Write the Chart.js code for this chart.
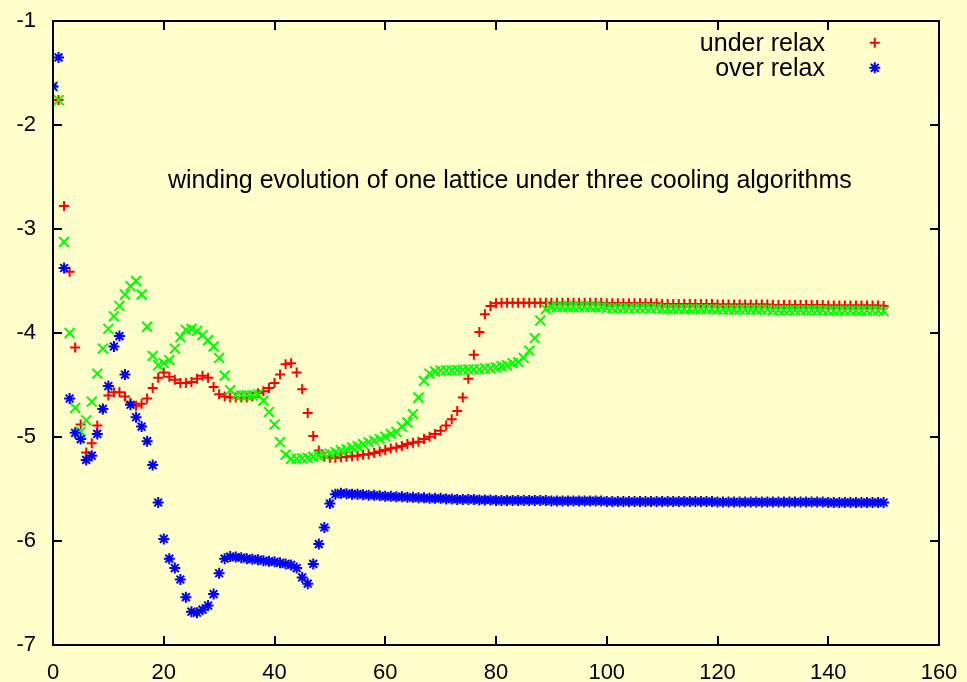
<!DOCTYPE html>
<html><head><meta charset="utf-8">
<script src="https://cdn.jsdelivr.net/npm/chart.js@4/dist/chart.umd.min.js"></script>
<style>html,body{margin:0;padding:0;background:#ffffcc;overflow:hidden}#wrap{width:967px;height:682px;position:relative}</style>
</head><body><div id="wrap"><canvas id="c" width="967" height="682"></canvas></div>
<script>
// cooling sweeps 0..150 (index of each value)
const underRelax = [
-1.63,-1.76,-2.78,-3.41,-4.14,-4.88,-5.15,-5.06,-4.89,-4.73,
-4.60,-4.57,-4.57,-4.61,-4.67,-4.70,-4.68,-4.63,-4.53,-4.43,
-4.38,-4.42,-4.45,-4.48,-4.48,-4.47,-4.44,-4.41,-4.43,-4.52,
-4.59,-4.61,-4.62,-4.62,-4.62,-4.62,-4.61,-4.58,-4.56,-4.53,
-4.48,-4.40,-4.30,-4.29,-4.38,-4.54,-4.77,-4.99,-5.13,-5.19,
-5.20,-5.20,-5.195,-5.19,-5.185,-5.18,-5.17,-5.165,-5.155,-5.14,
-5.125,-5.11,-5.10,-5.087,-5.067,-5.055,-5.045,-5.02,-4.997,-4.97,
-4.94,-4.89,-4.83,-4.75,-4.62,-4.44,-4.21,-3.99,-3.82,-3.74,
-3.715,-3.71,-3.71,-3.71,-3.71,-3.71,-3.71,-3.71,-3.71,-3.71,
-3.71,-3.71,-3.71,-3.71,-3.71,-3.71,-3.71,-3.71,-3.71,-3.71,
-3.715,-3.715,-3.715,-3.715,-3.715,-3.715,-3.715,-3.715,-3.715,-3.715,
-3.72,-3.72,-3.72,-3.72,-3.72,-3.72,-3.72,-3.72,-3.72,-3.72,
-3.725,-3.725,-3.725,-3.725,-3.725,-3.725,-3.725,-3.725,-3.725,-3.725,
-3.73,-3.73,-3.73,-3.73,-3.73,-3.73,-3.73,-3.73,-3.73,-3.73,
-3.735,-3.735,-3.735,-3.735,-3.735,-3.735,-3.735,-3.735,-3.735,-3.735,
-3.74];
const thirdCooling = [
-1.63,-1.76,-3.125,-4.00,-4.72,-4.95,-4.84,-4.66,-4.39,-4.15,
-3.96,-3.84,-3.74,-3.63,-3.55,-3.50,-3.63,-3.94,-4.22,-4.31,
-4.29,-4.26,-4.15,-4.04,-3.97,-3.96,-3.98,-4.02,-4.07,-4.13,
-4.24,-4.41,-4.55,-4.60,-4.60,-4.60,-4.60,-4.59,-4.65,-4.76,
-4.88,-5.05,-5.17,-5.21,-5.21,-5.205,-5.20,-5.19,-5.18,-5.17,
-5.16,-5.145,-5.13,-5.12,-5.10,-5.09,-5.07,-5.05,-5.035,-5.02,
-4.997,-4.97,-4.95,-4.90,-4.86,-4.78,-4.62,-4.46,-4.39,-4.37,
-4.36,-4.36,-4.36,-4.355,-4.355,-4.35,-4.35,-4.35,-4.34,-4.34,
-4.33,-4.32,-4.31,-4.29,-4.28,-4.24,-4.17,-4.05,-3.88,-3.77,
-3.75,-3.75,-3.75,-3.75,-3.75,-3.75,-3.75,-3.75,-3.75,-3.75,
-3.76,-3.76,-3.76,-3.76,-3.76,-3.76,-3.76,-3.76,-3.76,-3.76,
-3.77,-3.77,-3.77,-3.77,-3.77,-3.77,-3.77,-3.77,-3.77,-3.77,
-3.775,-3.775,-3.775,-3.775,-3.775,-3.775,-3.775,-3.775,-3.775,-3.775,
-3.78,-3.78,-3.78,-3.78,-3.78,-3.78,-3.78,-3.78,-3.78,-3.78,
-3.785,-3.785,-3.785,-3.785,-3.785,-3.785,-3.785,-3.785,-3.785,-3.785,
-3.79];
const overRelax = [
-1.63,-1.35,-3.375,-4.63,-4.96,-5.02,-5.22,-5.18,-4.97,-4.73,
-4.51,-4.13,-4.03,-4.40,-4.69,-4.81,-4.90,-5.04,-5.27,-5.63,
-5.98,-6.17,-6.26,-6.37,-6.54,-6.68,-6.69,-6.66,-6.62,-6.51,
-6.31,-6.17,-6.15,-6.155,-6.16,-6.17,-6.175,-6.18,-6.19,-6.195,
-6.20,-6.21,-6.22,-6.23,-6.26,-6.35,-6.41,-6.22,-6.03,-5.87,
-5.64,-5.55,-5.54,-5.545,-5.55,-5.55,-5.555,-5.56,-5.56,-5.565,
-5.57,-5.57,-5.575,-5.575,-5.58,-5.58,-5.585,-5.585,-5.59,-5.59,
-5.59,-5.595,-5.595,-5.60,-5.60,-5.60,-5.60,-5.605,-5.605,-5.605,
-5.61,-5.61,-5.61,-5.61,-5.61,-5.61,-5.61,-5.61,-5.61,-5.61,
-5.615,-5.615,-5.615,-5.615,-5.615,-5.615,-5.615,-5.615,-5.615,-5.615,
-5.62,-5.62,-5.62,-5.62,-5.62,-5.62,-5.62,-5.62,-5.62,-5.62,
-5.62,-5.62,-5.62,-5.62,-5.62,-5.62,-5.62,-5.62,-5.62,-5.62,
-5.625,-5.625,-5.625,-5.625,-5.625,-5.625,-5.625,-5.625,-5.625,-5.625,
-5.625,-5.625,-5.625,-5.625,-5.625,-5.625,-5.625,-5.625,-5.625,-5.625,
-5.63,-5.63,-5.63,-5.63,-5.63,-5.63,-5.63,-5.63,-5.63,-5.63,
-5.63];
const xTicks = [0, 20, 40, 60, 80, 100, 120, 140, 160];
const yTicks = [-7, -6, -5, -4, -3, -2, -1];
const legendLabels = ['under relax', 'over relax'];
const plotLabel = 'winding evolution of one lattice under three cooling algorithms';

const toPts = arr => arr.map((v, i) => ({x: i, y: v}));
const FONT = '"Liberation Sans", Arial, Helvetica, sans-serif';

const framePlugin = {
  id: 'frame',
  afterDatasetsDraw(chart) {
    const {ctx, chartArea: a, scales: {x, y}} = chart;
    ctx.save();
    ctx.strokeStyle = '#000';
    ctx.lineWidth = 2;
    ctx.beginPath();
    const tl = 9;
    xTicks.forEach(v => {
      const px = Math.round(x.getPixelForValue(v));
      ctx.moveTo(px, a.bottom); ctx.lineTo(px, a.bottom - tl);
      ctx.moveTo(px, a.top); ctx.lineTo(px, a.top + tl);
    });
    yTicks.forEach(v => {
      const py = Math.round(y.getPixelForValue(v));
      ctx.moveTo(a.left, py); ctx.lineTo(a.left + tl, py);
      ctx.moveTo(a.right, py); ctx.lineTo(a.right - tl, py);
    });
    ctx.stroke();
    ctx.strokeRect(a.left, a.top, a.right - a.left, a.bottom - a.top);
    // legend
    ctx.fillStyle = '#000';
    ctx.font = '25px ' + FONT;
    ctx.textAlign = 'right';
    ctx.textBaseline = 'alphabetic';
    const lx = x.getPixelForValue(139.4);
    const mx = x.getPixelForValue(148.4);
    const rows = [y.getPixelForValue(-1.21), y.getPixelForValue(-1.45)];
    const styles = [['cross', '#ff0000', 5], ['star', '#0000ff', 5.5]];
    legendLabels.forEach((t, k) => {
      ctx.fillText(t, lx, rows[k] + 8);
      ctx.strokeStyle = styles[k][1];
      ctx.lineWidth = 2;
      Chart.helpers.drawPoint(ctx, {pointStyle: styles[k][0], radius: styles[k][2], borderWidth: 2}, mx, rows[k]);
    });
    ctx.fillStyle = '#000';
    ctx.textAlign = 'center';
    ctx.fillText(plotLabel, x.getPixelForValue(82.5), y.getPixelForValue(-2.53) + 8);
    ctx.restore();
  }
};

const mk = (label, data, style, color, r, order) => ({
  label, data: toPts(data), showLine: false, pointStyle: style, pointRadius: r,
  pointHoverRadius: r, borderColor: color, backgroundColor: color, borderWidth: 2, order
});

new Chart(document.getElementById('c'), {
  type: 'scatter',
  data: {datasets: [
    mk('over relax', overRelax, 'star', '#0000ff', 5.5, 0),
    mk('', thirdCooling, 'crossRot', '#00ff00', 7, 1),
    mk('under relax', underRelax, 'cross', '#ff0000', 5, 2)
  ]},
  options: {
    responsive: false, animation: false, devicePixelRatio: 1,
    layout: {padding: {top: 21, right: 28, left: 0, bottom: 0}},
    plugins: {legend: {display: false}, tooltip: {enabled: false}},
    scales: {
      x: {type: 'linear', min: 0, max: 160,
        afterBuildTicks: s => { s.ticks = xTicks.map(v => ({value: v})); },
        ticks: {color: '#000', font: {family: FONT, size: 22}, padding: 7, maxRotation: 0},
        grid: {display: false}, border: {display: false},
        afterFit: s => { s.height = 37; s.paddingLeft = 0; s.paddingRight = 0; }},
      y: {type: 'linear', min: -7, max: -1,
        afterBuildTicks: s => { s.ticks = yTicks.map(v => ({value: v})); },
        ticks: {color: '#000', font: {family: FONT, size: 22}, padding: 9},
        grid: {display: false}, border: {display: false},
        afterFit: s => { s.width = 53; s.paddingTop = 0; s.paddingBottom = 0; }}
    }
  },
  plugins: [framePlugin]
});
</script></body></html>
